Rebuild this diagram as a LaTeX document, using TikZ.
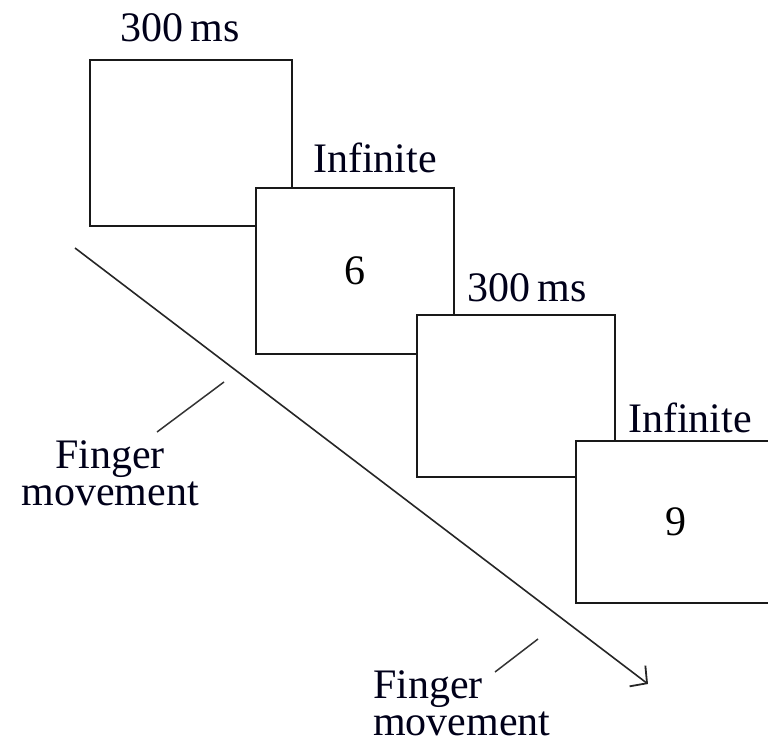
\documentclass[tikz,border=0pt]{standalone}
\usepackage{fontspec}
\setmainfont{Liberation Serif}
\usetikzlibrary{arrows.meta}
\begin{document}
\begin{tikzpicture}[x=1pt,y=-1pt,
  screen/.style={draw=black!90,line width=2pt,fill=white,rectangle,inner sep=0pt,
     minimum width=198pt,minimum height=164pt,font=\fontsize{42}{42}\selectfont},
  lbl/.style={font=\fontsize{42}{37}\selectfont,inner sep=0pt,text=black!90!blue},
  lead/.style={draw=black!80,line width=1.5pt}]
\useasboundingbox (0,0) rectangle (768,743);
\node[screen,minimum width=202pt,minimum height=166pt] (b1) at (191,143) {};
\node[screen,minimum height=166pt] (b2) at (355,271) {6};
\node[screen,minimum height=162pt] (b3) at (516,396) {};
\node[screen,minimum width=200pt,minimum height=162pt] (b4) at (676,522) {9};
\node[lbl] (t1) at (180,28) {300\,ms};
\node[lbl] (t2) at (375,158) {Infinite};
\node[lbl] (t3) at (527,288) {300\,ms};
\node[lbl] (t4) at (690,418) {Infinite};
\coordinate (as) at (75,248);
\coordinate (ae) at (648,684);
\draw[line width=1.6pt,draw=black!85,-{Straight Barb[length=12pt,width=26pt,line width=1.8pt]}] (as) -- (ae);
\node[lbl,align=center] (f1) at (110,473) {Finger\\movement};
\coordinate (l1a) at (157,432);
\coordinate (l1b) at (224,382);
\draw[lead] (l1a) -- (l1b);
\node[lbl,align=left,anchor=west] (f2) at (373,703) {Finger\\movement};
\coordinate (l2a) at (495,672);
\coordinate (l2b) at (538,639);
\draw[lead] (l2a) -- (l2b);
\end{tikzpicture}
\end{document}
